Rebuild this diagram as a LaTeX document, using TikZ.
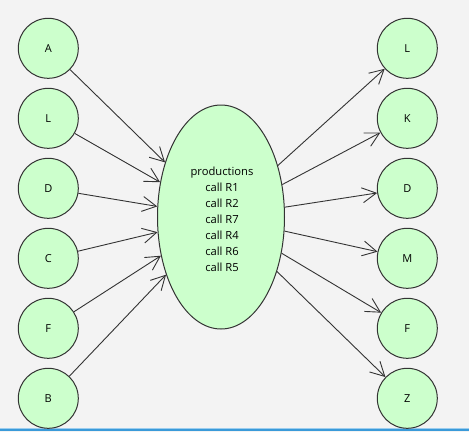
\documentclass[tikz,border=0pt]{standalone}
\usepackage{fontspec}
\setmainfont{Open Sans}
\usetikzlibrary{shapes.geometric,arrows.meta}
\definecolor{bgcol}{HTML}{F3F3F3}
\definecolor{nodefill}{HTML}{CCFFCC}
\definecolor{edgecol}{HTML}{333333}
\definecolor{barblue}{HTML}{3A9AD9}
\definecolor{barlight}{HTML}{9CCDEE}
\begin{document}
\begin{tikzpicture}[x=1pt,y=-1pt,
  statenode/.style={circle,draw=edgecol,fill=nodefill,line width=1pt,
    minimum size=60pt,inner sep=0pt,font=\fontsize{11}{12}\selectfont},
  hubnode/.style={ellipse,draw=edgecol,fill=nodefill,line width=1pt,
    minimum width=127pt,minimum height=224pt,inner sep=0pt},
  flow/.style={draw=edgecol,line width=0.9pt,
    -{Straight Barb[length=14pt,width=15pt,line width=0.9pt]}}]
  % canvas and bottom frame bar
  \fill[bgcol] (0,0) rectangle (469,432);
  \useasboundingbox (0,0) rectangle (469,432);
  \fill[barlight] (0,428) rectangle (469,429.2);
  \fill[barblue] (0,429.2) rectangle (469,431);
  % central production node
  \node[hubnode] (hub) at (221,217) {};
  \node[align=center,inner sep=0pt,font=\fontsize{11.2}{16}\selectfont] (hubtext) at (222,219.5)
    {productions\\call R1\\call R2\\call R7\\call R4\\call R6\\call R5};
  % input states
  \foreach \n/\t [count=\i from 0] in {inA/A,inL/L,inD/D,inC/C,inF/F,inB/B}{
    \node[statenode] (\n) at (48.3,48.3+70*\i) {\t};
  }
  % output states
  \foreach \n/\t [count=\i from 0] in {outL/L,outK/K,outD/D,outM/M,outF/F,outZ/Z}{
    \node[statenode] (\n) at (407.3,48.3+70*\i) {\t};
  }
  % connectors
  \foreach \n in {inA,inL,inD,inC,inF,inB}{
    \draw[flow] (\n) -- (hub);
  }
  \foreach \n in {outL,outK,outD,outM,outF,outZ}{
    \draw[flow] (hub) -- (\n);
  }
\end{tikzpicture}
\end{document}
